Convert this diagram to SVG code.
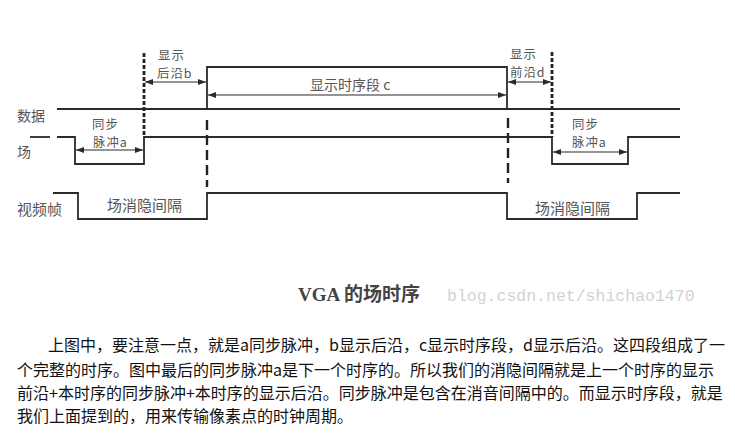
<svg xmlns="http://www.w3.org/2000/svg" width="735" height="435" viewBox="0 0 735 435">
<defs>
<marker id="ah" viewBox="0 0 8 6" refX="8" refY="3" markerWidth="8" markerHeight="6" markerUnits="userSpaceOnUse" orient="auto-start-reverse">
<path d="M0 0 L8 3 L0 6 Z" fill="#2b2b2b"/>
</marker>
</defs>
<style>
.sig{fill:none;stroke:#2b2b2b;stroke-width:1.8}
.arr{fill:none;stroke:#2b2b2b;stroke-width:1.2;marker-start:url(#ah);marker-end:url(#ah)}
.dthick{fill:none;stroke:#222;stroke-width:2.8;stroke-dasharray:4 2}
.dthin{fill:none;stroke:#222;stroke-width:2.4;stroke-dasharray:10 5}
.lbl{font-family:"Noto Sans CJK SC","Liberation Serif",sans-serif;font-size:14px;fill:#555}
.st{font-size:12.4px;letter-spacing:1px}
.para{font-family:"Noto Sans CJK SC","Noto Sans",sans-serif;font-size:16px;fill:#111}
</style>
<rect width="735" height="435" fill="#fff"/>
<g id="connectors">
<path class="sig" d="M57 109 H680"/>
<path class="sig" d="M207 109 V67 H507 V109"/>
<path class="arr" d="M208 95 H506"/>
<path class="dthick" d="M144 53 V137"/>
<path class="dthick" d="M552 52 V137"/>
<path class="arr" d="M145 82 H206"/>
<path class="arr" d="M508 82 H551"/>
<path class="sig" d="M30 137 H50"/>
<path class="sig" d="M57 137 H75 V164 H144 V137 H552 V164 H628 V137 H680"/>
<path class="arr" d="M76 150 H143"/>
<path class="arr" d="M553 152 H627"/>
<path class="dthin" d="M207 120 V187"/>
<path class="dthin" d="M508 118 V183"/>
<path class="sig" d="M53 193 H78 V219 H207 V193 H507 V219 H637 V193 H680"/>
</g>
<g id="labels">
<text class="lbl" x="17" y="121">数据</text>
<text class="lbl" x="17" y="157">场</text>
<text class="lbl" x="17" y="215" style="font-size:15px">视频帧</text>
<text class="lbl st" x="158" y="59.5">显示</text>
<text class="lbl st" x="157" y="77.8">后沿b</text>
<text class="lbl st" x="510" y="59">显示</text>
<text class="lbl st" x="510" y="77.3">前沿d</text>
<text class="lbl" x="310" y="90">显示时序段 c</text>
<text class="lbl st" x="92" y="128.5">同步</text>
<text class="lbl st" x="93" y="146.8">脉冲a</text>
<text class="lbl st" x="572" y="128.5">同步</text>
<text class="lbl st" x="572" y="146.8">脉冲a</text>
<text class="lbl" x="107" y="211" style="font-size:15px">场消隐间隔</text>
<text class="lbl" x="535" y="214" style="font-size:15px">场消隐间隔</text>
</g>
<g id="title">
<text x="298" y="301" style="font-family:'Liberation Serif','Noto Sans CJK SC',serif;font-size:19px;font-weight:bold;fill:#444">VGA 的场时序</text>
<text x="447" y="301" style="font-family:'Liberation Mono',monospace;font-size:16.5px;fill:#d2d2d2">blog.csdn.net/shichao1470</text>
</g>
<g id="paragraph">
<text class="para" x="48" y="351">上图中，要注意一点，就是a同步脉冲，b显示后沿，c显示时序段，d显示后沿。这四段组成了一</text>
<text class="para" x="17" y="376">个完整的时序。图中最后的同步脉冲a是下一个时序的。所以我们的消隐间隔就是上一个时序的显示</text>
<text class="para" x="17" y="398.5">前沿+本时序的同步脉冲+本时序的显示后沿。同步脉冲是包含在消音间隔中的。而显示时序段，就是</text>
<text class="para" x="17" y="421.5">我们上面提到的，用来传输像素点的时钟周期。</text>
</g>
</svg>
